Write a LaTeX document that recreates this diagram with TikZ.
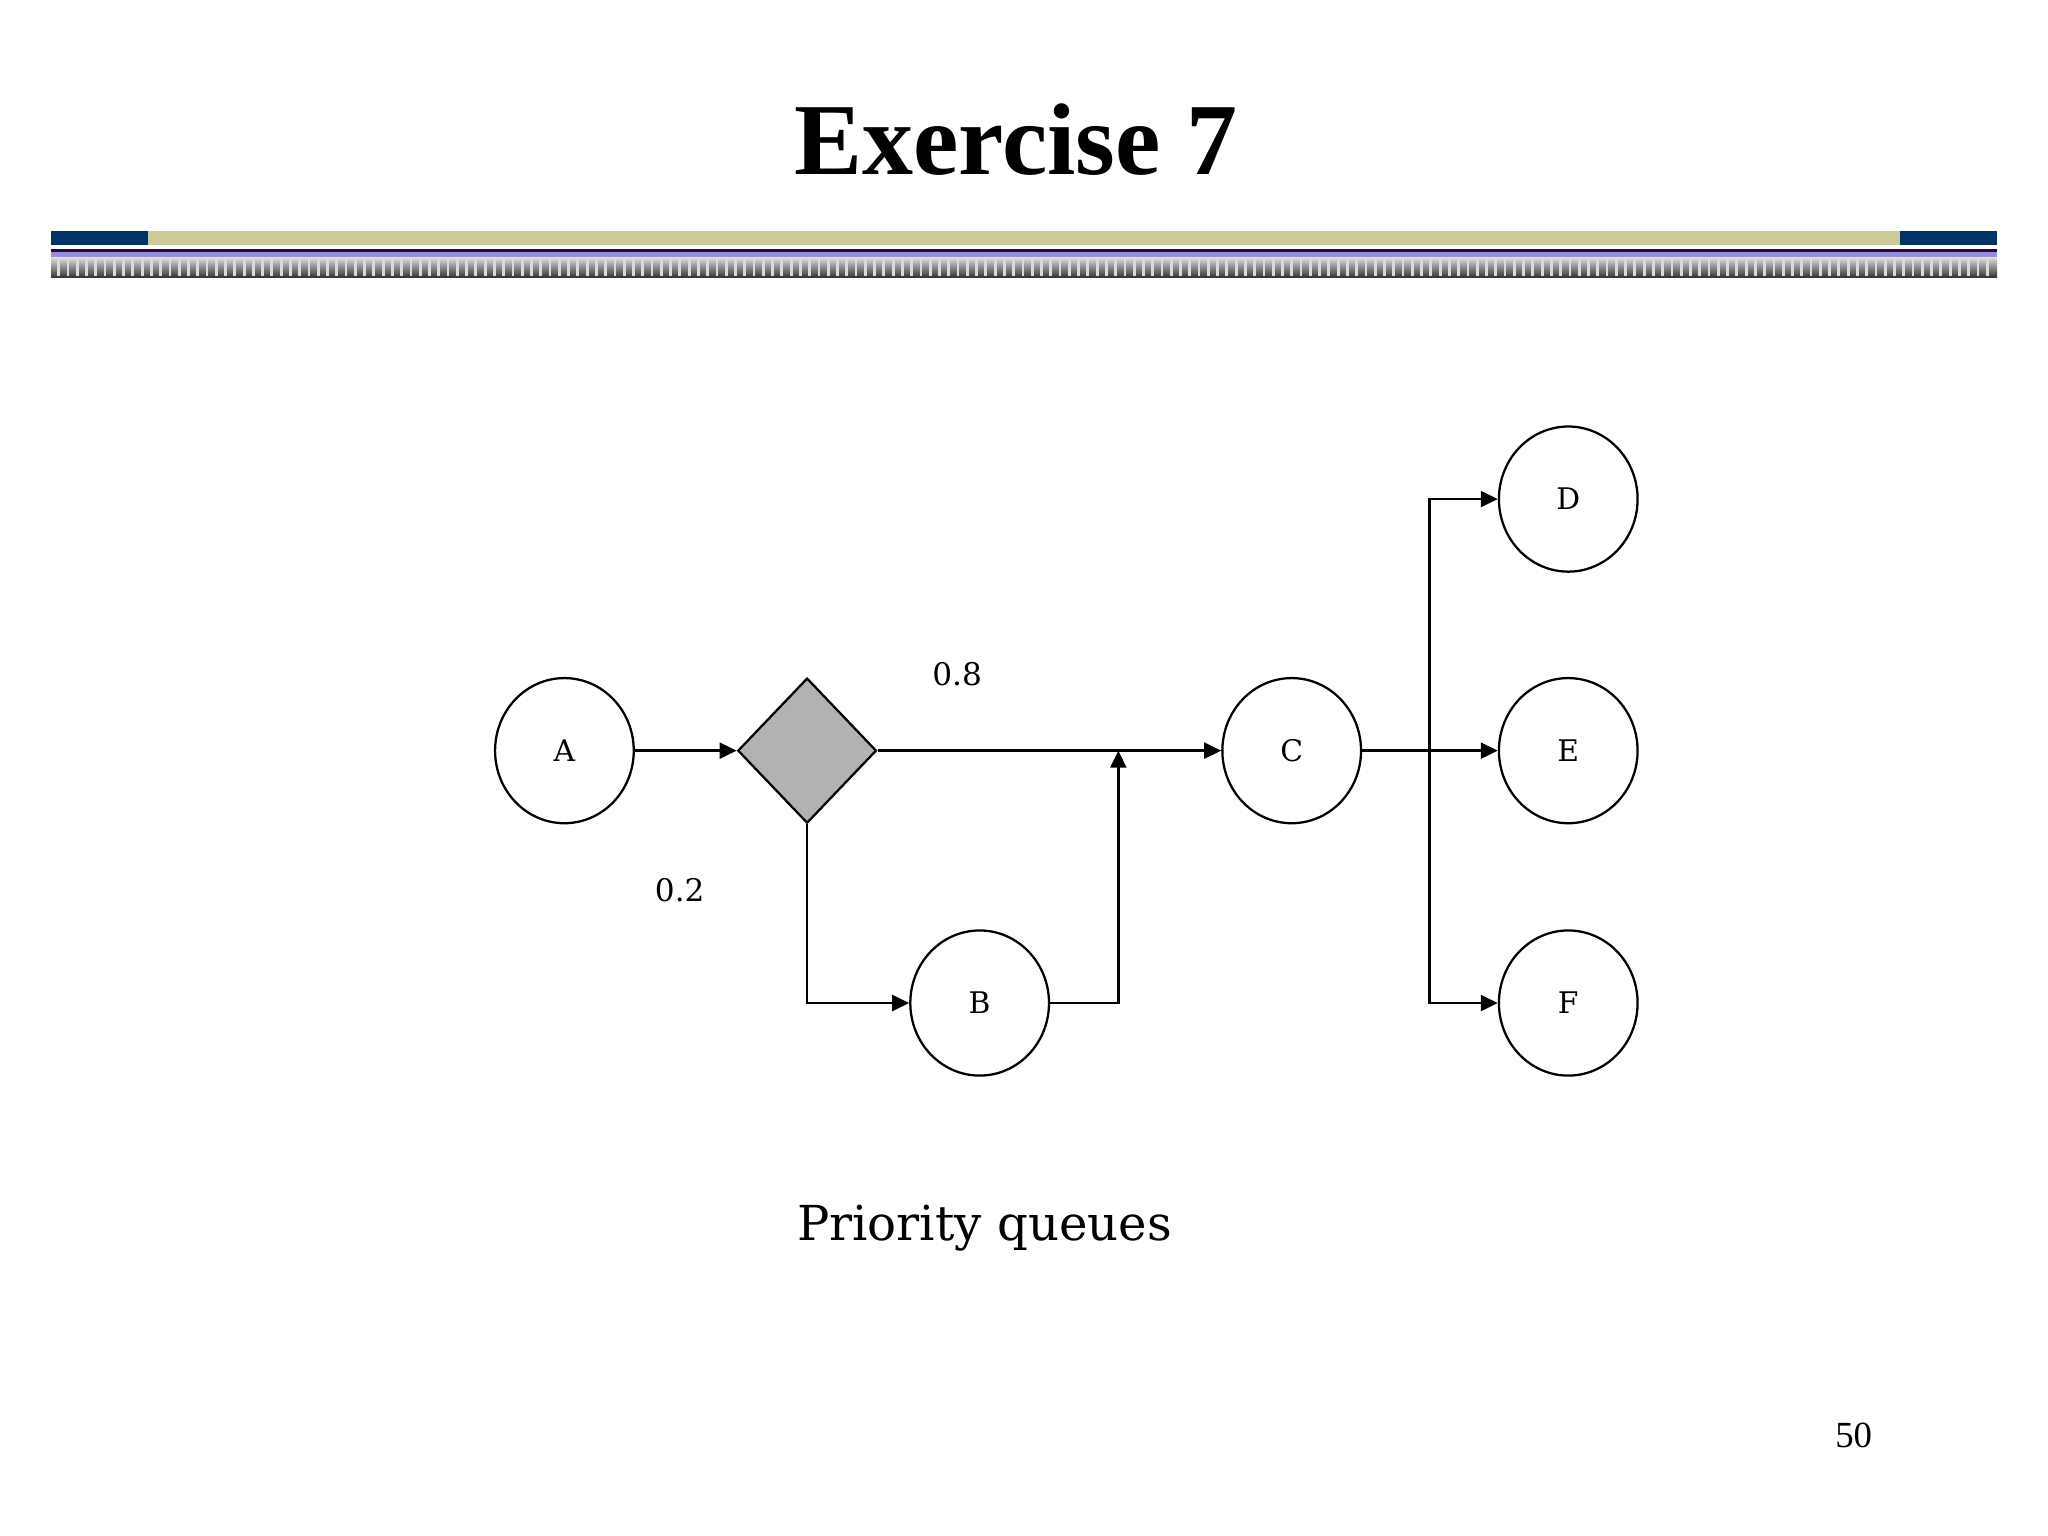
\documentclass[tikz,border=0pt]{standalone}
\usepackage{fontspec}
\setmainfont{Liberation Serif}
\newfontfamily\labelfont{DejaVu Serif}
\usetikzlibrary{shapes.geometric,arrows.meta}
\definecolor{slidenavy}{RGB}{0,51,102}
\definecolor{slidekhaki}{RGB}{204,204,153}
\definecolor{slidelilac}{RGB}{150,140,225}
\definecolor{slideplum}{RGB}{40,10,60}
\tikzset{
    station/.style={ellipse, draw, line width=0.8pt, minimum width=1.72cm,
        minimum height=1.8cm, inner sep=0pt, font=\labelfont\fontsize{10.5}{12}\selectfont},
    router/.style={diamond, draw, line width=0.8pt, fill=black!30,
        minimum width=1.72cm, minimum height=1.8cm, inner sep=0pt},
    flow/.style={-{Triangle[length=6pt,width=5.6pt]}, line width=0.9pt},
    prob/.style={font=\labelfont\fontsize{11}{13}\selectfont}
}

\begin{document}
\begin{tikzpicture}
\useasboundingbox (0,0) rectangle (25.4,19.05);

% title
\node[anchor=base] (title) at (12.6,16.88)
    {\fontsize{36}{40}\selectfont\bfseries Exercise 7};

% header bar
\fill[slidenavy] (0.633,16.01) rectangle (1.836,16.185);
\fill[slidekhaki] (1.836,16.01) rectangle (23.56,16.185);
\fill[slidenavy] (23.56,16.01) rectangle (24.77,16.185);
\fill[slideplum] (0.633,15.92) rectangle (24.77,15.96);
\fill[slidelilac] (0.633,15.85) rectangle (24.77,15.92);
\shade[top color=black!15, bottom color=black!80]
    (0.633,15.61) rectangle (24.77,15.85);
\foreach \x in {0.71,0.825,...,24.7}
    \fill[white!85!black] (\x,15.63) rectangle (\x+0.035,15.85);

% stations
\node[station] (A) at (7.0,9.74) {A};
\node[router] (split) at (10.01,9.74) {};
\node[station] (B) at (12.15,6.61) {B};
\node[station] (C) at (16.02,9.74) {C};
\node[station] (D) at (19.45,12.86) {D};
\node[station] (E) at (19.45,9.74) {E};
\node[station] (F) at (19.45,6.61) {F};
\coordinate (join) at (13.87,9.74);
\coordinate (fork) at (17.73,9.74);

% routing probabilities
\node[prob] (pmain) at (11.87,10.69) {0.8};
\node[prob] (pside) at (8.43,8.01) {0.2};

% connectors
\draw[flow] (A) -- (split);
\draw[flow] (split.east) -- (C);
\draw[flow] (split.south) |- (B);
\draw[flow] (B.east) -| (join);
\draw[flow] (C) -- (E);
\draw[flow] (fork) |- (D);
\draw[flow] (fork) |- (F);

% caption and page number
\node[anchor=base, font=\labelfont\fontsize{17}{20}\selectfont] (caption)
    at (12.21,3.66) {Priority queues};
\node[anchor=base, font=\fontsize{13}{15}\selectfont] (page)
    at (22.99,1.10) {50};

\end{tikzpicture}
\end{document}
